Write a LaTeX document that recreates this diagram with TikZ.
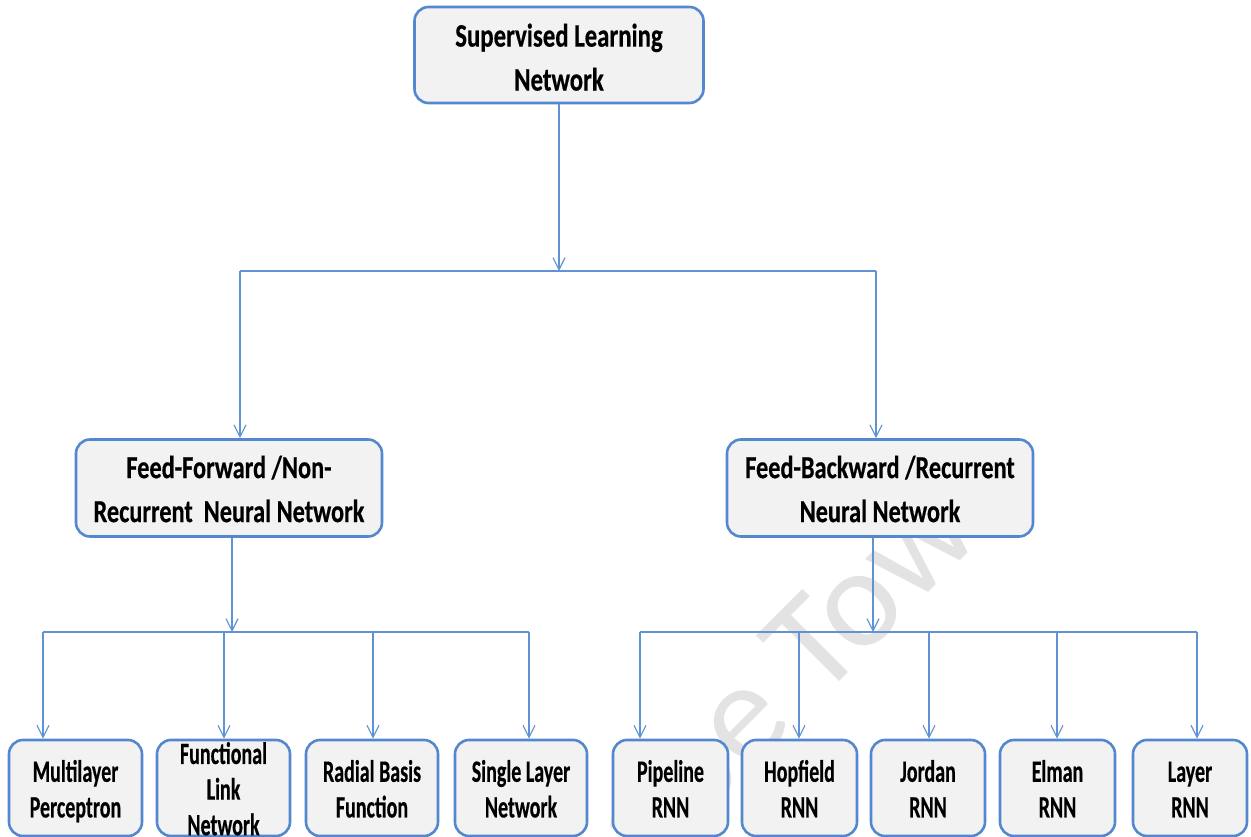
\documentclass[tikz,border=0pt]{standalone}
\usepackage{fontspec}
\setmainfont{Carlito}[BoldFeatures={FakeBold=0.5}]
\usepackage{graphicx}
\usetikzlibrary{arrows.meta}
\definecolor{boxblue}{RGB}{84,136,206}
\definecolor{lineblue}{RGB}{96,146,214}
\definecolor{boxfill}{RGB}{242,242,242}
\newcommand\TopT[1]{\scalebox{1}[1.32]{\fontsize{24.8}{33.3}\selectfont\bfseries\begin{tabular}{@{}c@{}}#1\end{tabular}}}
\newcommand\MidT[1]{\scalebox{1}[1.32]{\fontsize{24.3}{33.3}\selectfont\bfseries\begin{tabular}{@{}c@{}}#1\end{tabular}}}
\newcommand\LowT[1]{\scalebox{1}[1.55]{\fontsize{20}{23}\selectfont\bfseries\begin{tabular}{@{}c@{}}#1\end{tabular}}}
\begin{document}
\begin{tikzpicture}[x=1pt,y=-1pt,
  box/.style={draw=boxblue, line width=2.6pt, fill=boxfill, rounded corners=14pt, inner sep=0pt, minimum height=96pt},
  topbox/.style={box, text height=26pt, text depth=0pt},
  midbox/.style={box, minimum height=97pt, text height=23pt, text depth=0pt},
  lowbox/.style={box, text height=25pt, text depth=0pt},
  conn/.style={draw=lineblue, line width=1.2pt},
  arr/.style={conn, -{Straight Barb[length=12pt,width=12pt]}}]
\useasboundingbox (0,0) rectangle (1251,837);
\clip (0,0) rectangle (1251,837);
\fill[white] (0,0) rectangle (1251,837);
% watermark
\node[rotate=45, text=black!11, font=\fontsize{142}{142}\selectfont] (wm) at (790,682) {Cape Town};
% nodes
\node[topbox, minimum width=289pt] (top) at (559,55) {\TopT{Supervised Learning\\Network}};
\node[midbox, minimum width=306pt] (ff) at (229,488) {\MidT{Feed-Forward /Non-\\Recurrent\ \ Neural Network}};
\node[midbox, minimum width=306pt] (fb) at (880,488) {\MidT{Feed-Backward /Recurrent\\Neural Network}};
\node[lowbox, minimum width=133pt] (ml) at (75.5,788) {\LowT{Multilayer\\Perceptron}};
\node[lowbox, minimum width=133pt] (fl) at (223.5,788) {\LowT{Functional\\Link\\Network}};
\node[lowbox, minimum width=132pt] (rb) at (372,788) {\LowT{Radial Basis\\Function}};
\node[lowbox, minimum width=132pt] (sl) at (521,788) {\LowT{Single Layer\\Network}};
\node[lowbox, minimum width=115pt] (pr) at (670.5,788) {\LowT{Pipeline\\RNN}};
\node[lowbox, minimum width=115pt] (hr) at (799.5,788) {\LowT{Hopfield\\RNN}};
\node[lowbox, minimum width=114pt] (jr) at (928,788) {\LowT{Jordan\\RNN}};
\node[lowbox, minimum width=115pt] (er) at (1057.5,788) {\LowT{Elman\\RNN}};
\node[lowbox, minimum width=114pt] (lr) at (1190,788) {\LowT{Layer\\RNN}};
% junction coordinates
\coordinate (j1) at (559,271);
\coordinate (h1l) at (240,271);
\coordinate (h1r) at (876,271);
\coordinate (j2) at (232,632);
\coordinate (h2a) at (43,632);
\coordinate (h2b) at (224,632);
\coordinate (h2c) at (373,632);
\coordinate (h2d) at (529,632);
\coordinate (j3) at (873,632);
\coordinate (h3a) at (640,632);
\coordinate (h3b) at (799,632);
\coordinate (h3c) at (929,632);
\coordinate (h3d) at (1057,632);
\coordinate (h3e) at (1197,632);
% connectors
\draw[arr] (top.south) -- (j1);
\draw[conn] (h1l) -- (h1r);
\draw[arr] (h1l) -- (h1l |- ff.north);
\draw[arr] (h1r) -- (h1r |- fb.north);
\draw[arr] (j2 |- ff.south) -- (j2);
\draw[conn] (h2a) -- (h2d);
\draw[arr] (h2a) -- (h2a |- ml.north);
\draw[arr] (h2b) -- (h2b |- fl.north);
\draw[arr] (h2c) -- (h2c |- rb.north);
\draw[arr] (h2d) -- (h2d |- sl.north);
\draw[arr] (j3 |- fb.south) -- (j3);
\draw[conn] (h3a) -- (h3e);
\draw[arr] (h3a) -- (h3a |- pr.north);
\draw[arr] (h3b) -- (h3b |- hr.north);
\draw[arr] (h3c) -- (h3c |- jr.north);
\draw[arr] (h3d) -- (h3d |- er.north);
\draw[arr] (h3e) -- (h3e |- lr.north);
\end{tikzpicture}
\end{document}
